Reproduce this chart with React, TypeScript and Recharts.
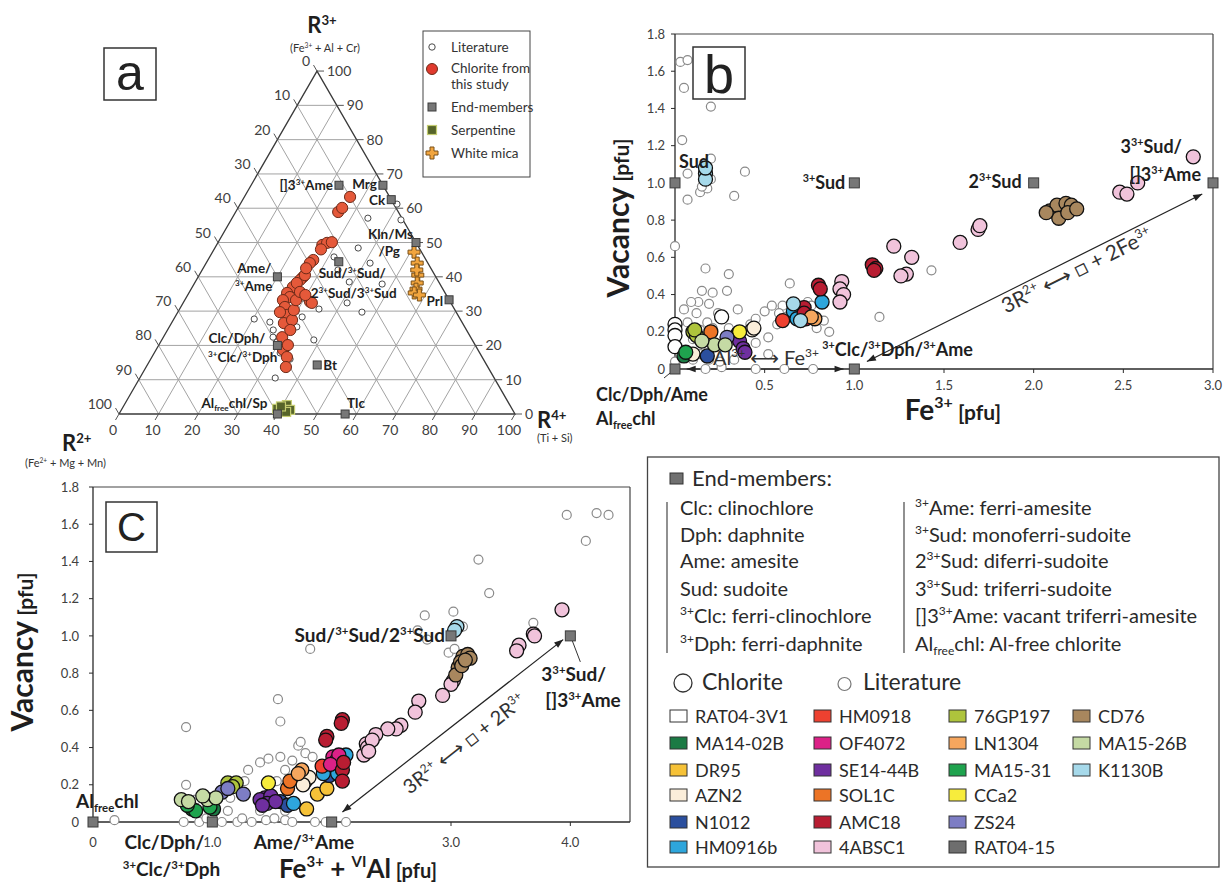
import React from "react";
import { ScatterChart, Scatter, XAxis, YAxis, ReferenceLine } from "recharts";

const FONT = "Lato, 'DejaVu Sans', sans-serif";
const INK = "#1e1e1e";

// samples, legend order (column by column)
const samples = ["RAT04-3V1", "MA14-02B", "DR95", "AZN2", "N1012", "HM0916b", "HM0918", "OF4072", "SE14-44B", "SOL1C", "AMC18", "4ABSC1", "76GP197", "LN1304", "MA15-31", "CCa2", "ZS24", "RAT04-15", "CD76", "MA15-26B", "K1130B"];
const sampleColors = ["#ffffff", "#1b7a44", "#f6c238", "#fbeeda", "#2b4f9e", "#2ea6dc", "#ee4130", "#dc2187", "#6f2f9f", "#ec7426", "#b81d32", "#f1c3db", "#aec43c", "#f6a65e", "#1fa34e", "#f7ec3c", "#7d7dc4", "#6e6e6e", "#a8875e", "#c5daa4", "#a6d9ea"];

// (a) ternary values as [R3+ %, R4+ %], R2+ is the remainder
const ternTicks = [0, 10, 20, 30, 40, 50, 60, 70, 80, 90, 100];
const aLiterature: [number, number][] = [
  [57.1, 34.3], [56.6, 42.9], [61.2, 39.6], [48.4, 36.2], [45.8, 31.4], [44.0, 41.4], [38.5, 38.9], [37.9, 47.5],
  [32.4, 41.4], [30.6, 35.2], [29.7, 46.5], [27.7, 20.3], [26.8, 24.7], [25.1, 30.7], [21.6, 38.4], [16.0, 35.2],
  [10.5, 34.2], [28.3, 32.1], [24.5, 26.7], [22.4, 27.7], [21.0, 29.4], [17.8, 31.8], [16.6, 34.1], [33.8, 29.6],
  [42.0, 34.3], [36.7, 25.3], [25.4, 32.2],
];
const aChlorite: [number, number][] = [
  [63.3, 26.7], [58.9, 25.9], [60.1, 26.3], [49.3, 26.7], [49.9, 27.6], [50.1, 28.7], [44.9, 26.6], [44.0, 26.2],
  [39.9, 26.5], [39.1, 26.2], [40.5, 26.7], [37.0, 25.4], [38.2, 25.8], [35.3, 24.8], [34.1, 26.1], [33.2, 24.8],
  [32.7, 31.9], [32.4, 32.5], [31.2, 26.3], [28.9, 28.0], [26.5, 28.4], [22.4, 30.0], [18.7, 32.1], [16.6, 34.1],
  [13.7, 35.3], [27.4, 30.0], [24.5, 31.0], [20.1, 32.6], [30.3, 29.0], [29.7, 25.8], [33.2, 28.1], [35.6, 27.9],
  [34.7, 29.7], [48.0, 27.0], [42.5, 26.0],
];
const aEndMembers: [string, number, number][] = [
  ["Clc", 20, 30], ["Ame", 40, 20], ["Sud", 44.4, 33.3], ["[]3Ame", 66.7, 22.2], ["Mrg", 66.7, 33.3], ["Ck", 62.5, 37.5],
  ["Kln", 50, 50], ["Prl", 33.3, 66.7], ["Bt", 14.3, 42.9], ["Alfree", 0, 40], ["Tlc", 0, 57.1],
];
const aSerpentine: [number, number][] = [[1.5, 39.2], [1.7, 40.5], [2.6, 41.1], [1.2, 42.6], [0.6, 41.9], [2.2, 39.8]];
const aWhiteMica: [number, number][] = [[47.2, 50.9], [44.0, 53.3], [40.5, 55.2], [38.2, 56.2], [36.4, 56.8], [35.3, 56.9], [34.7, 58.5], [42.0, 54.2]];

// (b) Fe3+ vs vacancy
const vacancyTicks = [0, 0.2, 0.4, 0.6, 0.8, 1.0, 1.2, 1.4, 1.6, 1.8];
const bTicksX = [0.5, 1.0, 1.5, 2.0, 2.5, 3.0];
const bLiterature: [number, number][] = [
  [0.03, 1.65], [0.07, 1.66], [0.05, 1.51], [0.20, 1.41], [0.04, 1.23], [0.0, 0.66], [0.07, 1.05], [0.07, 0.91],
  [0.14, 0.95], [0.20, 1.02], [0.20, 1.13], [0.39, 1.06], [0.33, 0.93], [0.18, 0.97], [0.15, 0.98], [0.17, 0.54],
  [0.30, 0.51], [0.21, 0.41], [0.29, 0.42], [0.13, 0.36], [0.05, 0.32], [0.12, 0.30], [0.19, 0.35], [0.35, 0.32],
  [0.18, 0.25], [0.14, 0.21], [0.21, 0.22], [0.07, 0.25], [0.64, 0.46], [0.50, 0.31], [0.54, 0.34], [0.60, 0.34],
  [0.69, 0.34], [0.74, 0.36], [0.76, 0.34], [0.52, 0.17], [0.86, 0.20], [1.14, 0.28], [1.43, 0.53], [0.77, 0.0],
  [0.45, 0.0], [0.61, 0.0], [0.17, 0.0], [0.26, 0.01], [0.40, 0.08], [0.45, 0.14], [0.36, 0.19], [0.42, 0.24],
  [0.05, 0.07], [0.10, 0.05], [0.14, 0.08], [0.19, 0.05], [0.83, 0.26], [0.79, 0.22], [0.92, 0.35], [0.17, 0.12],
  [0.25, 0.12], [0.45, 0.27], [0.10, 0.16], [0.24, 0.30], [0.30, 0.22], [0.58, 0.30], [0.62, 0.28], [0.57, 0.24],
  [0.33, 0.05], [0.52, 0.08], [0.09, 0.36], [0.15, 0.42], [0.0, 0.04], [0.25, 0.04],
];
const bChlorite: [string, number, number][] = [
  ["RAT04-3V1", 0.0, 0.24], ["RAT04-3V1", 0.0, 0.21], ["RAT04-3V1", 0.0, 0.18], ["RAT04-3V1", 0.0, 0.12], ["RAT04-3V1", 0.26, 0.28],
  ["MA15-31", 0.06, 0.09], ["MA14-02B", 0.05, 0.07],
  ["76GP197", 0.10, 0.20], ["76GP197", 0.12, 0.18], ["76GP197", 0.11, 0.21],
  ["SOL1C", 0.20, 0.20], ["AZN2", 0.10, 0.08], ["AZN2", 0.43, 0.21], ["AZN2", 0.44, 0.22], ["N1012", 0.18, 0.07],
  ["MA15-26B", 0.22, 0.13], ["MA15-26B", 0.28, 0.13], ["MA15-26B", 0.15, 0.15], ["ZS24", 0.29, 0.17],
  ["DR95", 0.35, 0.19], ["CCa2", 0.36, 0.20], ["SE14-44B", 0.36, 0.15], ["SE14-44B", 0.38, 0.11], ["SE14-44B", 0.39, 0.09],
  ["HM0918", 0.60, 0.26], ["HM0916b", 0.66, 0.31], ["HM0916b", 0.82, 0.36], ["HM0916b", 0.68, 0.27],
  ["K1130B", 0.66, 0.35], ["K1130B", 0.70, 0.26], ["K1130B", 0.17, 1.05], ["K1130B", 0.17, 1.02], ["K1130B", 0.17, 1.08],
  ["LN1304", 0.78, 0.27], ["LN1304", 0.76, 0.28],
  ["AMC18", 0.72, 0.33], ["AMC18", 0.73, 0.27], ["AMC18", 0.72, 0.30], ["AMC18", 0.80, 0.45], ["AMC18", 0.81, 0.43],
  ["AMC18", 1.10, 0.56], ["AMC18", 1.12, 0.54], ["AMC18", 1.11, 0.53],
  ["4ABSC1", 0.93, 0.47], ["4ABSC1", 0.92, 0.43], ["4ABSC1", 0.94, 0.40], ["4ABSC1", 0.92, 0.36], ["4ABSC1", 1.22, 0.66],
  ["4ABSC1", 1.32, 0.60], ["4ABSC1", 1.29, 0.51], ["4ABSC1", 1.26, 0.50], ["4ABSC1", 1.59, 0.68], ["4ABSC1", 1.69, 0.75],
  ["4ABSC1", 1.70, 0.77], ["4ABSC1", 2.48, 0.95], ["4ABSC1", 2.52, 0.94], ["4ABSC1", 2.58, 1.00], ["4ABSC1", 2.89, 1.14],
  ["CD76", 2.09, 0.85], ["CD76", 2.13, 0.88], ["CD76", 2.18, 0.89], ["CD76", 2.21, 0.88], ["CD76", 2.14, 0.81],
  ["CD76", 2.19, 0.84], ["CD76", 2.07, 0.84], ["CD76", 2.24, 0.86],
];
const bEndMembers: [string, number, number][] = [["Sud", 0, 1], ["3Sud", 1, 1], ["23Sud", 2, 1], ["33Sud", 3, 1], ["Clc", 0, 0], ["3Clc", 1, 0]];

// (c) Fe3+ + VIAl vs vacancy
const cTicksX = [0, 1.0, 3.0, 4.0];
const cLiterature: [number, number][] = [
  [3.97, 1.65], [4.22, 1.66], [4.32, 1.65], [4.13, 1.51], [3.23, 1.41], [3.32, 1.23], [2.78, 1.11], [3.02, 1.13],
  [2.72, 1.03], [2.80, 0.98], [2.98, 0.91], [3.10, 1.05], [3.69, 1.07], [1.82, 0.93], [1.55, 0.66], [1.57, 0.54],
  [0.78, 0.51], [0.78, 0.20], [0.18, 0.01], [2.12, 0.0], [1.72, 0.41], [1.74, 0.43], [0.76, 0.0], [0.89, 0.0],
  [1.08, 0.0], [1.21, 0.0], [1.33, 0.0], [1.45, 0.01], [1.61, 0.01], [1.67, 0.0], [1.86, 0.0], [1.30, 0.28],
  [1.40, 0.32], [1.47, 0.34], [1.57, 0.35], [1.67, 0.33], [1.78, 0.37], [1.84, 0.35], [1.61, 0.28], [1.71, 0.24],
  [1.54, 0.22], [1.27, 0.22], [1.15, 0.13], [0.99, 0.12], [0.93, 0.14], [0.86, 0.12], [1.13, 0.06], [1.40, 0.06],
  [1.61, 0.06], [3.03, 0.93], [0.95, 0.02], [1.25, 0.02], [1.52, 0.02], [1.95, 0.0], [1.00, 0.04],
];
const cChlorite: [string, number, number][] = [
  ["K1130B", 3.05, 1.05], ["K1130B", 3.03, 1.03],
  ["CD76", 3.10, 0.89], ["CD76", 3.14, 0.90], ["CD76", 3.06, 0.83], ["CD76", 3.04, 0.79], ["CD76", 3.08, 0.86],
  ["CD76", 3.16, 0.88], ["CD76", 3.09, 0.84], ["CD76", 3.12, 0.87],
  ["4ABSC1", 3.93, 1.14], ["4ABSC1", 3.69, 1.01], ["4ABSC1", 3.70, 1.00], ["4ABSC1", 3.57, 0.95], ["4ABSC1", 3.55, 0.92],
  ["4ABSC1", 3.02, 0.76], ["4ABSC1", 3.00, 0.74], ["4ABSC1", 2.93, 0.68], ["4ABSC1", 2.73, 0.65], ["4ABSC1", 2.70, 0.59],
  ["4ABSC1", 2.58, 0.52], ["4ABSC1", 2.54, 0.50], ["4ABSC1", 2.47, 0.50], ["4ABSC1", 2.37, 0.47], ["4ABSC1", 2.29, 0.42],
  ["4ABSC1", 2.27, 0.36], ["4ABSC1", 2.30, 0.40], ["4ABSC1", 2.34, 0.44], ["4ABSC1", 2.31, 0.38],
  ["AMC18", 2.09, 0.55], ["AMC18", 2.08, 0.53], ["AMC18", 1.96, 0.46], ["AMC18", 1.95, 0.44], ["AMC18", 2.09, 0.28],
  ["AMC18", 2.09, 0.22], ["AMC18", 2.10, 0.32],
  ["OF4072", 2.01, 0.35], ["OF4072", 2.04, 0.33], ["OF4072", 2.06, 0.36], ["OF4072", 1.99, 0.31],
  ["HM0916b", 2.12, 0.36], ["HM0916b", 1.93, 0.26], ["HM0916b", 1.68, 0.10], ["HM0916b", 2.05, 0.26],
  ["HM0918", 1.92, 0.30], ["N1012", 1.98, 0.25], ["N1012", 1.57, 0.11], ["N1012", 1.63, 0.09],
  ["LN1304", 1.75, 0.28], ["LN1304", 1.72, 0.26], ["DR95", 1.79, 0.07], ["DR95", 1.88, 0.15], ["DR95", 1.96, 0.18],
  ["AZN2", 1.78, 0.22], ["AZN2", 1.81, 0.24], ["AZN2", 1.76, 0.20], ["SOL1C", 1.63, 0.18], ["SOL1C", 1.65, 0.22],
  ["CCa2", 1.47, 0.21], ["SE14-44B", 1.44, 0.13], ["SE14-44B", 1.40, 0.12], ["SE14-44B", 1.49, 0.14],
  ["SE14-44B", 1.46, 0.10], ["SE14-44B", 1.53, 0.11], ["SE14-44B", 1.42, 0.09],
  ["ZS24", 1.26, 0.15], ["ZS24", 1.08, 0.16], ["ZS24", 1.13, 0.18],
  ["76GP197", 1.13, 0.21], ["76GP197", 1.20, 0.21], ["76GP197", 1.17, 0.19],
  ["MA15-26B", 0.74, 0.12], ["MA15-26B", 0.96, 0.12], ["MA15-26B", 1.03, 0.13], ["MA15-26B", 0.92, 0.14], ["MA15-26B", 0.80, 0.11],
  ["MA14-02B", 0.83, 0.07], ["MA14-02B", 1.01, 0.07], ["MA15-31", 0.86, 0.06], ["MA15-31", 0.79, 0.09], ["MA15-31", 0.98, 0.08],
];
const cEndMembers: [string, number, number][] = [["Alfree", 0, 0], ["Clc", 1, 0], ["Ame", 2, 0], ["Sud", 3, 1], ["33Sud", 4, 1]];

// legend texts
const endMemberNamesLeft = ["Clc: clinochlore", "Dph: daphnite", "Ame: amesite", "Sud: sudoite", "^{3+}Clc: ferri-clinochlore", "^{3+}Dph: ferri-daphnite"];
const endMemberNamesRight = ["^{3+}Ame: ferri-amesite", "^{3+}Sud: monoferri-sudoite", "2^{3+}Sud: diferri-sudoite", "3^{3+}Sud: triferri-sudoite", "[]3^{3+}Ame: vacant triferri-amesite", "Al_{free}chl: Al-free chlorite"];

// ---------- helpers ----------
function rich(s: string, size: number) {
  const parts = s.split(/(\^\{[^}]*\}|_\{[^}]*\})/).filter((p) => p !== "");
  let shift = 0;
  return parts.map((p, i) => {
    let target = 0, fs = size, txt = p;
    if (p.startsWith("^{")) { target = -size * 0.38; fs = size * 0.6; txt = p.slice(2, -1); }
    else if (p.startsWith("_{")) { target = size * 0.22; fs = size * 0.6; txt = p.slice(2, -1); }
    const dy = target - shift;
    shift = target;
    return <tspan key={i} dy={dy} fontSize={fs}>{txt}</tspan>;
  });
}

const SQ = Math.sqrt(3) / 2;
const tern = (r3: number, r4: number) => ({ x: r4 / 100 + r3 / 200, y: (r3 / 100) * SQ });

type Lab = { t: string; dx: number; dy: number; a?: "start" | "end" | "middle"; plain?: number };
type Layout = Record<string, { lines: Lab[]; lead?: number[] }>;

const aLayout: Layout = {
  "[]3Ame": { lines: [{ t: "[]3^{3+}Ame", dx: -6, dy: 5, a: "end" }] },
  Mrg: { lines: [{ t: "Mrg", dx: -6, dy: 4, a: "end" }] },
  Ck: { lines: [{ t: "Ck", dx: -6, dy: 5, a: "end" }] },
  Kln: { lines: [{ t: "Kln/Ms", dx: -3, dy: -4, a: "end" }, { t: "/Pg", dx: -16, dy: 13, a: "end" }] },
  Sud: { lines: [{ t: "Sud/^{3+}Sud/", dx: -20, dy: 16 }, { t: "2^{3+}Sud/3^{3+}Sud", dx: -28, dy: 36 }] },
  Ame: { lines: [{ t: "Ame/", dx: -6, dy: -4, a: "end" }, { t: "^{3+}Ame", dx: -5, dy: 14, a: "end" }] },
  Clc: { lines: [{ t: "Clc/Dph/", dx: -12, dy: -2, a: "end" }, { t: "^{3+}Clc/^{3+}Dph", dx: 0, dy: 17, a: "end" }] },
  Bt: { lines: [{ t: "Bt", dx: 6, dy: 5 }] },
  Alfree: { lines: [{ t: "Al_{free}chl/Sp", dx: -10, dy: -6, a: "end" }] },
  Tlc: { lines: [{ t: "Tlc", dx: 2, dy: -6 }] },
  Prl: { lines: [{ t: "Prl", dx: -6, dy: 6, a: "end" }] },
};
const bLayout: Layout = {
  Sud: { lines: [{ t: "Sud", dx: 4, dy: -15 }] },
  "3Sud": { lines: [{ t: "^{3+}Sud", dx: -9, dy: 6, a: "end" }] },
  "23Sud": { lines: [{ t: "2^{3+}Sud", dx: -12, dy: 5, a: "end" }] },
  "33Sud": { lines: [{ t: "3^{3+}Sud/", dx: -31, dy: -30, a: "end" }, { t: "[]3^{3+}Ame", dx: -12, dy: -2, a: "end" }] },
  Clc: {
    lines: [
      { t: "Clc/Dph/Ame", dx: -79, dy: 32 }, { t: "Al_{free}chl", dx: -79, dy: 56 },
      { t: "Al^{3+} ⟷ Fe^{3+}", dx: 91, dy: -4, a: "middle", plain: 20 },
    ],
    lead: [0, 0, -11, 9],
  },
  "3Clc": { lines: [{ t: "^{3+}Clc/^{3+}Dph/^{3+}Ame", dx: -32, dy: -13 }] },
};
const cLayout: Layout = {
  Alfree: { lines: [{ t: "Al_{free}chl", dx: -17, dy: -14 }] },
  Clc: { lines: [{ t: "Clc/Dph/", dx: -8, dy: 27, a: "end" }, { t: "^{3+}Clc/^{3+}Dph", dx: 8, dy: 54, a: "end" }] },
  Ame: { lines: [{ t: "Ame/^{3+}Ame", dx: -78, dy: 27 }] },
  Sud: { lines: [{ t: "Sud/^{3+}Sud/2^{3+}Sud", dx: -6, dy: 6, a: "end" }] },
  "33Sud": { lines: [{ t: "3^{3+}Sud/", dx: -29, dy: 45 }, { t: "[]3^{3+}Ame", dx: -25, dy: 71 }], lead: [2, 5, 10, 26] },
};

const noDot = () => <g />;
const dot = (r: number, fill: string, stroke: string, sw: number) => (p: any) =>
  <circle cx={p.cx} cy={p.cy} r={r} fill={fill} stroke={stroke} strokeWidth={sw} />;

const endShape = (layout: Layout, size: number, fs: number) => (p: any) => {
  const L = layout[p.payload.name];
  return (
    <g>
      {L?.lead && <line x1={p.cx + L.lead[0]} y1={p.cy + L.lead[1]} x2={p.cx + L.lead[2]} y2={p.cy + L.lead[3]} stroke="#333" strokeWidth={1} />}
      <rect x={p.cx - size / 2} y={p.cy - size / 2} width={size} height={size} fill="#777" stroke="#3c3c3c" strokeWidth={1} />
      {L?.lines.map((ln, i) => {
        const f = ln.plain ?? fs;
        return (
          <text key={i} x={p.cx + ln.dx} y={p.cy + ln.dy} textAnchor={ln.a ?? "start"} fontFamily={FONT}
            fontWeight={ln.plain ? 400 : 700} fontSize={f} fill={ln.plain ? "#333" : INK}>
            {rich(ln.t, f)}
          </text>
        );
      })}
    </g>
  );
};

const arrowShape = (label?: { text: string; size: number; along: number; perp: number }) => (p: any) => {
  const { x1, y1, x2, y2 } = p;
  const dx = x2 - x1, dy = y2 - y1, len = Math.hypot(dx, dy);
  const ux = dx / len, uy = dy / len, nx = -uy, ny = ux;
  const head = (x: number, y: number, sx: number, sy: number) => {
    const bx = x - sx * 9, by = y - sy * 9;
    return `${x},${y} ${bx - sy * 3.3},${by + sx * 3.3} ${bx + sy * 3.3},${by - sx * 3.3}`;
  };
  const ang = (Math.atan2(dy, dx) * 180) / Math.PI;
  let txt = null;
  if (label) {
    const cx = (x1 + x2) / 2 + label.along * ux + label.perp * nx;
    const cy = (y1 + y2) / 2 + label.along * uy + label.perp * ny;
    txt = (
      <g transform={`translate(${cx},${cy}) rotate(${ang})`}>
        <text x={0} y={label.size * 0.35} textAnchor="middle" fontFamily={FONT} fontSize={label.size} fill="#333">
          {rich(label.text, label.size)}
        </text>
      </g>
    );
  }
  return (
    <g>
      <line x1={x1} y1={y1} x2={x2} y2={y2} stroke="#222" strokeWidth={1.2} />
      <polygon points={head(x1, y1, -ux, -uy)} fill="#222" />
      <polygon points={head(x2, y2, ux, uy)} fill="#222" />
      {txt}
    </g>
  );
};

const tickShape = (side: "left" | "right" | "bottom") => (p: any) => {
  const { cx, cy } = p;
  const v = String(p.payload.v);
  const common = { fontFamily: FONT, fontSize: 14, fill: "#404040" };
  if (side === "left")
    return <g><line x1={cx} y1={cy} x2={cx - 3.5} y2={cy - 6} stroke="#555" /><text x={cx - 7} y={cy - 5} textAnchor="end" {...common}>{v}</text></g>;
  if (side === "right")
    return <g><line x1={cx} y1={cy} x2={cx + 7} y2={cy} stroke="#555" /><text x={cx + 10} y={cy + 5} {...common}>{v}</text></g>;
  return <g><line x1={cx} y1={cy} x2={cx - 3.5} y2={cy + 6} stroke="#555" /><text x={cx - 6} y={cy + 21} textAnchor="middle" {...common}>{v}</text></g>;
};

const crossShape = (p: any) => {
  const s = 3;
  const { cx, cy } = p;
  const pts = [[-s, -3 * s], [s, -3 * s], [s, -s], [3 * s, -s], [3 * s, s], [s, s], [s, 3 * s], [-s, 3 * s], [-s, s], [-3 * s, s], [-3 * s, -s], [-s, -s]]
    .map(([a, b]) => `${cx + a / 1.5},${cy + b / 1.5}`).join(" ");
  return <polygon points={pts} fill="#f2a53e" stroke="#7a5018" strokeWidth={1} />;
};
const serpShape = (p: any) => <rect x={p.cx - 4.5} y={p.cy - 4.5} width={9} height={9} fill="#56642a" stroke="#c4cc72" strokeWidth={1.2} />;

// ---------- panel a ----------
function TernaryChart() {
  const W = 600, H = 470, left = 119, base = 414, side = 396;
  const inner = ternTicks.filter((v) => v > 0 && v < 100);
  const gridLines = [
    ...inner.map((v) => [tern(v, 0), tern(v, 100 - v)]),
    ...inner.map((v) => [tern(0, v), tern(100 - v, v)]),
    ...inner.map((v) => [tern(0, 100 - v), tern(100 - v, 0)]),
  ];
  const outline = [tern(0, 0), tern(0, 100), tern(100, 0), tern(0, 0)];
  const leftTicks = ternTicks.map((v) => ({ ...tern(100 - v, 0), v }));
  const rightTicks = ternTicks.map((v) => ({ ...tern(v, 100 - v), v }));
  const bottomTicks = ternTicks.map((v) => ({ ...tern(0, v), v }));
  const toPts = (arr: [number, number][]) => arr.map(([r3, r4]) => tern(r3, r4));
  return (
    <ScatterChart width={W} height={H} margin={{ top: 0, right: 0, bottom: 0, left: 0 }}>
      <XAxis type="number" dataKey="x" hide domain={[-left / side, (W - left) / side]} allowDataOverflow />
      <YAxis type="number" dataKey="y" hide domain={[(base - H) / side, base / side]} allowDataOverflow />
      {gridLines.map((seg, i) => (
        <Scatter key={`g${i}`} data={seg} line={{ stroke: "#a3a3a3", strokeWidth: 1 }} shape={noDot} isAnimationActive={false} />
      ))}
      <Scatter data={outline} line={{ stroke: "#3a3a3a", strokeWidth: 1.3 }} shape={noDot} isAnimationActive={false} />
      <Scatter data={leftTicks} shape={tickShape("left")} isAnimationActive={false} />
      <Scatter data={rightTicks} shape={tickShape("right")} isAnimationActive={false} />
      <Scatter data={bottomTicks} shape={tickShape("bottom")} isAnimationActive={false} />
      <Scatter data={toPts(aLiterature)} shape={dot(3.1, "#fff", "#4a4a4a", 1)} isAnimationActive={false} />
      <Scatter data={toPts(aSerpentine)} shape={serpShape} isAnimationActive={false} />
      <Scatter data={toPts(aWhiteMica)} shape={crossShape} isAnimationActive={false} />
      <Scatter data={toPts(aChlorite)} shape={dot(5.6, "#e5593a", "#6e2a18", 1)} isAnimationActive={false} />
      <Scatter data={aEndMembers.map(([name, r3, r4]) => ({ ...tern(r3, r4), name }))} shape={endShape(aLayout, 8, 13.5)} isAnimationActive={false} />
    </ScatterChart>
  );
}

const axisTick = { fill: "#404040", fontSize: 13, fontFamily: FONT };
const fmt = (v: number) => (v === 0 ? "0" : v.toFixed(1));

function VacancyChart({ kind }: { kind: "b" | "c" }) {
  const isB = kind === "b";
  const lit = isB ? bLiterature : cLiterature;
  const chl = isB ? bChlorite : cChlorite;
  const ends = isB ? bEndMembers : cEndMembers;
  const xMax = isB ? 3 : 4.5;
  return (
    <ScatterChart
      width={isB ? 668 : 645}
      height={isB ? 440 : 416}
      margin={isB ? { top: 34, right: 15, bottom: 41, left: 70 } : { top: 17, right: 15, bottom: 34, left: 48 }}
    >
      <XAxis type="number" dataKey="x" domain={[0, xMax]} ticks={isB ? bTicksX : cTicksX} tickFormatter={fmt} height={30}
        axisLine={{ stroke: "#2a2a2a", strokeWidth: 1.3 }} tickLine={{ stroke: "#2a2a2a" }} tickSize={4} tickMargin={isB ? 8 : 12} tick={axisTick} />
      <YAxis type="number" dataKey="y" domain={[0, 1.8]} ticks={vacancyTicks} tickFormatter={fmt} width={45}
        axisLine={{ stroke: "#2a2a2a", strokeWidth: 1.3 }} tickLine={{ stroke: "#2a2a2a" }} tickSize={4} tickMargin={isB ? 6 : 10} tick={axisTick} />
      <ReferenceLine y={1.8} stroke="#444" strokeWidth={1.2} />
      <ReferenceLine x={xMax} stroke="#444" strokeWidth={1.2} />
      <Scatter data={lit.map(([x, y]) => ({ x, y }))} shape={dot(4.5, "#fff", "#8a8a8a", 1.2)} isAnimationActive={false} />
      {samples.map((s, i) => {
        const pts = chl.filter((d) => d[0] === s).map(([, x, y]) => ({ x, y }));
        if (!pts.length) return null;
        return <Scatter key={s} name={s} data={pts} shape={dot(7, sampleColors[i], "#111", 1.3)} isAnimationActive={false} />;
      })}
      {isB ? (
        <ReferenceLine segment={[{ x: 1.07, y: 0.04 }, { x: 2.94, y: 0.94 }]} ifOverflow="visible"
          shape={arrowShape({ text: "3R^{2+} ⟷ □ + 2Fe^{3+}", size: 21, along: 41, perp: 12 })} />
      ) : (
        <ReferenceLine segment={[{ x: 2.09, y: 0.054 }, { x: 3.94, y: 0.98 }]} ifOverflow="visible"
          shape={arrowShape({ text: "3R^{2+} ⟷ □ + 2R^{3+}", size: 20, along: -2, perp: 21 })} />
      )}
      {isB && <ReferenceLine segment={[{ x: 0.065, y: 0 }, { x: 0.94, y: 0 }]} ifOverflow="visible" shape={arrowShape()} />}
      <Scatter data={ends.map(([name, x, y]) => ({ x, y, name }))} shape={endShape(isB ? bLayout : cLayout, 10, isB ? 18 : 19)} isAnimationActive={false} />
    </ScatterChart>
  );
}

function Txt({ x, y, s, size, weight = 400, anchor = "start", fill = INK }: any) {
  return (
    <text x={x} y={y} fontSize={size} fontWeight={weight} textAnchor={anchor} fill={fill} fontFamily={FONT}>
      {rich(s, size)}
    </text>
  );
}

function Overlay() {
  const cols = [670, 814, 949, 1073];
  const rows = [716, 743, 770, 795, 822, 847];
  const rowsEnd = [515, 542, 568, 596, 623, 651];
  return (
    <svg width={1228} height={886} style={{ position: "absolute", left: 0, top: 0, pointerEvents: "none" }}>
      {/* panel a titles */}
      <Txt x={322} y={33} s="R^{3+}" size={22} weight={700} anchor="middle" />
      <Txt x={325} y={52} s="(Fe^{3+} + Al + Cr)" size={11} anchor="middle" fill="#333" />
      <Txt x={62} y={451} s="R^{2+}" size={22} weight={700} />
      <Txt x={25} y={467} s="(Fe^{2+} + Mg + Mn)" size={11} fill="#333" />
      <Txt x={537} y={428} s="R^{4+}" size={22} weight={700} />
      <Txt x={537} y={442} s="(Ti + Si)" size={11} fill="#333" />
      <rect x={104} y={48} width={52} height={52} fill="#fff" stroke="#333" strokeWidth={1.5} />
      <text x={130} y={90} textAnchor="middle" fontFamily="'Liberation Sans', Arial, sans-serif" fontSize={50} fill="#222">a</text>

      {/* panel a legend */}
      <rect x={423} y={31} width={107} height={146} fill="#fff" stroke="#444" strokeWidth={1} />
      <circle cx={432} cy={47} r={3.2} fill="#fff" stroke="#4a4a4a" />
      <Txt x={451} y={51.5} s="Literature" size={13.5} fill="#333" />
      <circle cx={432} cy={69} r={5.5} fill="#e03a2e" stroke="#6e2a18" />
      <Txt x={451} y={73} s="Chlorite from" size={13.5} fill="#333" />
      <Txt x={451} y={89} s="this study" size={13.5} fill="#333" />
      <rect x={428} y={103} width={8} height={8} fill="#777" stroke="#3c3c3c" />
      <Txt x={451} y={111.5} s="End-members" size={13.5} fill="#333" />
      {serpShape({ cx: 432, cy: 130 })}
      <Txt x={451} y={134.5} s="Serpentine" size={13.5} fill="#333" />
      {crossShape({ cx: 432, cy: 153 })}
      <Txt x={451} y={157.5} s="White mica" size={13.5} fill="#333" />

      {/* panel b titles */}
      <rect x={693} y={47} width={52} height={52} fill="#fff" stroke="#333" strokeWidth={1.5} />
      <text x={719} y={93} textAnchor="middle" fontFamily="'Liberation Sans', Arial, sans-serif" fontSize={54} fill="#222">b</text>
      <text transform="translate(629,218) rotate(-90)" textAnchor="middle" fontFamily={FONT} fontWeight={700} fill={INK}>
        <tspan fontSize={30}>Vacancy</tspan><tspan fontSize={21}> [pfu]</tspan>
      </text>
      <text x={953} y={420} textAnchor="middle" fontFamily={FONT} fontWeight={700} fill={INK}>
        <tspan fontSize={28}>Fe</tspan><tspan fontSize={16} dy={-12}>3+</tspan><tspan fontSize={21} dy={12}> [pfu]</tspan>
      </text>

      {/* panel c titles */}
      <rect x={106} y={502} width={51} height={50} fill="#fff" stroke="#333" strokeWidth={1.5} />
      <text x={131.5} y={541} textAnchor="middle" fontFamily="'Liberation Sans', Arial, sans-serif" fontSize={40} fill="#222">C</text>
      <text transform="translate(33,652) rotate(-90)" textAnchor="middle" fontFamily={FONT} fontWeight={700} fill={INK}>
        <tspan fontSize={30}>Vacancy</tspan><tspan fontSize={21}> [pfu]</tspan>
      </text>
      <text x={358} y={878} textAnchor="middle" fontFamily={FONT} fontWeight={700} fill={INK}>
        <tspan fontSize={26}>Fe</tspan><tspan fontSize={15} dy={-11}>3+</tspan><tspan fontSize={26} dy={11}> + </tspan>
        <tspan fontSize={15} dy={-11}>VI</tspan><tspan fontSize={26} dy={11}>Al</tspan><tspan fontSize={20}> [pfu]</tspan>
      </text>

      {/* big legend */}
      <rect x={647.5} y={457} width={571.5} height={410} fill="#fff" stroke="#444" strokeWidth={1.3} />
      <rect x={670} y={473} width={13} height={11} fill="#707070" stroke="#333" />
      <Txt x={692} y={486} s="End-members:" size={22} fill="#2a2a2a" />
      <line x1={667} y1={502} x2={667} y2={653} stroke="#555" strokeWidth={1.3} />
      <line x1={904} y1={502} x2={904} y2={653} stroke="#555" strokeWidth={1.3} />
      {endMemberNamesLeft.map((s, i) => <Txt key={`l${i}`} x={680} y={rowsEnd[i]} s={s} size={20} fill="#2a2a2a" />)}
      {endMemberNamesRight.map((s, i) => <Txt key={`r${i}`} x={915} y={rowsEnd[i]} s={s} size={20} fill="#2a2a2a" />)}
      <circle cx={683} cy={683} r={9} fill="#fff" stroke="#333" strokeWidth={1.3} />
      <Txt x={702} y={690} s="Chlorite" size={23} fill="#2a2a2a" />
      <circle cx={844.5} cy={684} r={6.5} fill="#fff" stroke="#777" strokeWidth={1.2} />
      <Txt x={863} y={690} s="Literature" size={23} fill="#2a2a2a" />
      {samples.map((s, i) => {
        const cx = cols[Math.floor(i / 6)], cy = rows[i % 6];
        return (
          <g key={s}>
            <rect x={cx} y={cy - 6} width={17} height={12} fill={sampleColors[i]} stroke="#333" strokeWidth={1} />
            <Txt x={cx + 25} y={cy + 6.5} s={s} size={18} fill="#2a2a2a" />
          </g>
        );
      })}
    </svg>
  );
}

export default function App() {
  return (
    <div style={{ position: "absolute", left: 0, top: 0, width: 1228, height: 886, background: "#fff", overflow: "hidden" }}>
      <div style={{ position: "absolute", left: 0, top: 0 }}><TernaryChart /></div>
      <div style={{ position: "absolute", left: 560, top: 0 }}><VacancyChart kind="b" /></div>
      <div style={{ position: "absolute", left: 0, top: 470 }}><VacancyChart kind="c" /></div>
      <Overlay />
    </div>
  );
}
